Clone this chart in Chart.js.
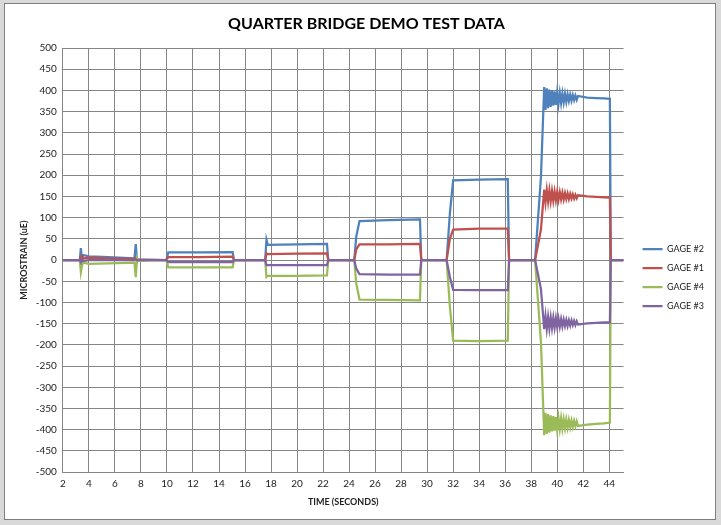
<!DOCTYPE html>
<html>
<head>
<meta charset="utf-8">
<script src="https://cdn.jsdelivr.net/npm/chart.js@4"></script>
<style>
  html, body { margin: 0; padding: 0; background: #d9d9d9; }
  #frame { position: absolute; left: 4px; top: 3px; width: 710px; height: 515px; border: 1px solid #7f7f7f; background: #fff; }
  canvas { display: block; }
</style>
</head>
<body>
<div id="frame"><canvas id="chartCanvas" width="710" height="515"></canvas></div>
<script>
// time stamps (seconds) shared by all four gages
const timeSec = [
  2.0, 3.3, 3.38, 3.45, 3.55, 4.0, 5.5, 7.5, 7.6, 7.7, 7.8, 9.95, 10.1, 12.5, 15.05, 15.15,
  17.55, 17.65, 17.75, 20.0, 22.3, 22.4, 24.4, 24.55, 24.8, 27.0, 29.45, 29.55,
  31.5, 31.75, 32.0, 34.0, 36.2, 36.3, 38.3, 38.75,
  39.0, 39.1, 39.2, 39.3, 39.4, 39.5, 39.6, 39.7, 39.8, 39.9, 40.0, 40.1, 40.2, 40.3,
  40.4, 40.5, 40.6, 40.7, 40.8, 40.9, 41.0, 41.1, 41.2, 41.3, 41.4, 41.5, 41.6,
  42.3, 43.0, 43.6, 44.05, 44.12, 45.1
];

// microstrain readings
const gage2 = [
  0, 0, 28, 4, 12, 9, 7, 4, 38, -4, 1, 0, 18, 18, 19, 0,
  0, 48, 36, 37, 38, 0, 0, 55, 92, 94, 96, 0,
  0, 110, 188, 190, 191, 0, 0, 195,
  408, 354, 405, 358, 402, 361, 400, 364, 398, 366, 396, 368, 394, 370,
  393, 372, 392, 373, 391, 375, 390, 376, 389, 377, 388, 378, 387,
  383, 382, 381, 380, 0, 0
];
const gage1 = [
  0, 0, 8, 10, 4, 6, 4, 3, 5, 0, 1, 0, 7, 7, 8, 0,
  0, 16, 14, 15, 16, 0, 0, 25, 37, 37, 38, 0,
  0, 50, 72, 74, 74, 0, 0, 72,
  166, 136, 165, 138, 164, 139, 163, 140, 162, 141, 161, 142, 160, 143,
  159, 143, 158, 144, 157, 144, 156, 145, 155, 145, 154, 146, 153,
  150, 149, 148, 147, 0, 0
];
const gage4 = [
  0, 0, -28, -15, -6, -9, -8, -6, -40, 5, -2, 0, -17, -17, -17, 0,
  0, -40, -37, -37, -36, 0, 0, -55, -93, -94, -95, 0,
  0, -110, -190, -191, -190, 0, 0, -192,
  -413, -360, -410, -363, -407, -366, -404, -368, -402, -370, -400, -372, -398, -373,
  -397, -375, -396, -376, -395, -377, -394, -378, -393, -379, -392, -380, -391,
  -388, -386, -385, -383, 0, 0
];
const gage3 = [
  0, 0, -5, 3, -2, 0, 0, 0, 2, 0, 0, 0, -5, -5, -5, 0,
  0, -12, -12, -12, -12, 0, 0, -20, -33, -34, -34, 0,
  0, -40, -70, -71, -71, 0, 0, -68,
  -163, -132, -162, -134, -161, -135, -160, -136, -159, -137, -158, -138, -157, -139,
  -156, -140, -155, -141, -155, -142, -154, -142, -153, -143, -153, -144, -152,
  -149, -148, -147, -147, 0, 0
];

const seriesNames = ["GAGE #2", "GAGE #1", "GAGE #4", "GAGE #3"];
const seriesValues = [gage2, gage1, gage4, gage3];
const seriesColors = ["#4f81bd", "#c0504d", "#9bbb59", "#8064a2"];

const gridColor = "#868686";
const textColor = "#222";
const fontName = "Lato";

function toPoints(values) {
  return timeSec.map((t, i) => ({ x: t, y: values[i] }));
}

const datasets = seriesNames.map((name, i) => ({
  label: name,
  data: toPoints(seriesValues[i]),
  borderColor: seriesColors[i],
  backgroundColor: seriesColors[i],
  borderWidth: 2.25,
  pointRadius: 0,
  tension: 0,
  order: seriesNames.length - i   // last gage drawn on top, like the original
}));

new Chart(document.getElementById("chartCanvas"), {
  type: "line",
  data: { datasets },
  options: {
    responsive: false,
    animation: false,
    layout: { padding: { left: 14, right: 1, top: 0, bottom: 12 } },
    plugins: {
      title: {
        display: true,
        text: "QUARTER BRIDGE DEMO TEST DATA",
        color: "#000",
        font: { family: fontName, size: 16, weight: "bold" },
        padding: { top: 10.4, bottom: 14.4 }
      },
      legend: {
        position: "right",
        title: { display: true, text: " ", font: { size: 1 }, padding: { top: 0, bottom: 43 } },
        labels: {
          usePointStyle: true,
          pointStyle: "line",
          pointStyleWidth: 20,
          padding: 10,
          color: textColor,
          font: { family: fontName, size: 9 },
          sort: (a, b) => a.datasetIndex - b.datasetIndex
        }
      },
      tooltip: { enabled: false }
    },
    scales: {
      x: {
        type: "linear",
        min: 2,
        max: 45.1,
        ticks: {
          stepSize: 2,
          includeBounds: false,
          autoSkip: false,
          maxRotation: 0,
          padding: 7,
          color: textColor,
          font: { family: fontName, size: 10, lineHeight: 1 }
        },
        grid: { color: gridColor, drawTicks: false },
        border: { color: gridColor },
        title: {
          display: true,
          text: "TIME (SECONDS)",
          color: textColor,
          font: { family: fontName, size: 9, weight: "bold" },
          padding: { top: 0, bottom: 0 }
        }
      },
      y: {
        min: -500,
        max: 500,
        ticks: {
          stepSize: 50,
          padding: 6,
          color: textColor,
          font: { family: fontName, size: 10 }
        },
        grid: { color: gridColor, drawTicks: false },
        border: { color: gridColor },
        title: {
          display: true,
          text: "MICROSTRAIN (uE)",
          color: textColor,
          font: { family: fontName, size: 9, weight: "bold" },
          padding: { top: 0, bottom: 0 }
        }
      },
      // empty strip between plot and legend
      gap: {
        type: "linear",
        position: "right",
        grid: { display: false },
        border: { display: false },
        ticks: { display: false },
        afterFit: scale => { scale.width = 9; }
      }
    }
  }
});
</script>
</body>
</html>
